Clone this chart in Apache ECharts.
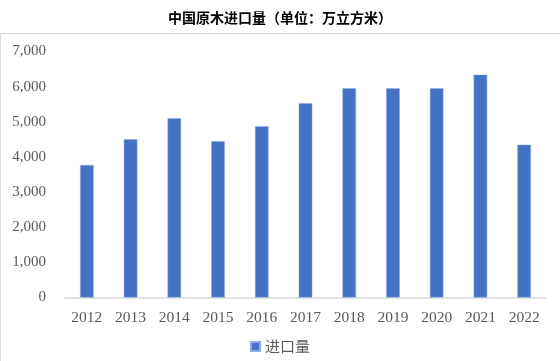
<!DOCTYPE html>
<html><head><meta charset="utf-8">
<script src="https://cdn.jsdelivr.net/npm/echarts@6/dist/echarts.min.js"></script>
<style>html,body{margin:0;padding:0;background:#fff}#c{width:560px;height:361px}</style>
</head><body><div id="c"></div>
<script>
const categories = ['2012','2013','2014','2015','2016','2017','2018','2019','2020','2021','2022'];
const imports = [3770, 4500, 5100, 4445, 4870, 5530, 5955, 5955, 5955, 6340, 4350];
const seriesName = '进口量';
const titleText = '中国原木进口量（单位：万立方米）';

const chart = echarts.init(document.getElementById('c'), null, {renderer:'canvas'});
chart.setOption({
  animation:false,
  backgroundColor:'#fff',
  title:{text:titleText,left:'center',top:6,textStyle:{fontFamily:'"Noto Sans CJK SC"',fontSize:14,fontWeight:'bold',color:'#000'}},
  graphic:[
    {type:'line',shape:{x1:0,y1:33.5,x2:560,y2:33.5},style:{stroke:'#d9d9d9',lineWidth:1}},
    {type:'line',shape:{x1:0.5,y1:33,x2:0.5,y2:361},style:{stroke:'#d9d9d9',lineWidth:1}}
  ],
  legend:{bottom:2,left:'center',itemWidth:9,itemHeight:9,icon:'rect',itemGap:10,
    textStyle:{fontFamily:'"Noto Sans CJK SC"',fontSize:15,color:'#595959'},data:[seriesName]},
  grid:{left:65,right:14,top:51.5,bottom:63.5,containLabel:false},
  xAxis:{type:'category',data:categories,
    axisLine:{lineStyle:{color:'#d9d9d9',width:1.5}},axisTick:{show:false},
    axisLabel:{fontFamily:'"Liberation Serif"',fontSize:15.5,color:'#595959',margin:12}},
  yAxis:{type:'value',min:0,max:7000,interval:1000,
    axisLine:{show:false},axisTick:{show:false},splitLine:{show:false},
    axisLabel:{fontFamily:'"Liberation Serif"',fontSize:15,color:'#595959',margin:19,
      formatter:v=>v.toLocaleString('en-US')}},
  series:[{name:seriesName,type:'bar',data:imports,barWidth:'31%',
    itemStyle:{color:'#4472C4',borderColor:'#8FAADC',borderWidth:0.5}}]
});
</script></body></html>
